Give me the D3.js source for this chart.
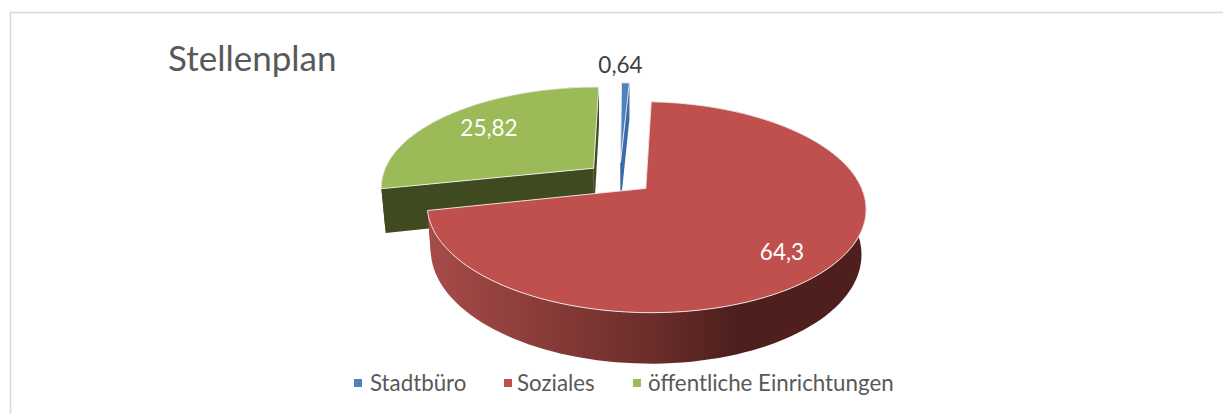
<!DOCTYPE html>
<html lang="de">
<head>
<meta charset="utf-8">
<script src="https://cdnjs.cloudflare.com/ajax/libs/d3/7.8.5/d3.min.js"></script>
<style>
html,body{margin:0;padding:0;background:#fff}
svg{display:block}
text{font-family:Lato,"Open Sans",sans-serif}
</style>
</head>
<body>
<div id="chart"></div>
<script>
// --- data ---
const categories = ["Stadtbüro", "Soziales", "öffentliche Einrichtungen"];
const values = [0.64, 64.3, 25.82];
const valueLabels = ["0,64", "64,3", "25,82"];
const title = "Stellenplan";
const topColors = ["#4f81bd", "#c0504d", "#9bbb59"];
const wallColors = ["#3a6aa8", "#4e1f1d", "#3f4a20"];
const labelColors = ["#404040", "#ffffff", "#ffffff"];

// --- layout ---
const W = 1223, H = 414;
const cam = {cx: 619.5, cy: 178, R: 212, K: 98.5, D: 44.5, P: 0.1745, Q: 0.018};
const explode = 0.16;
const rotation = 0.4 * Math.PI / 180;
const drawOrder = [2, 0, 1];

const svg = d3.select("#chart").append("svg").attr("width", W).attr("height", H);

// frame
svg.append("path").attr("d", d3.line()([[10.5, H], [10.5, 12.5], [W, 12.5]]))
  .attr("fill", "none").attr("stroke", "#d9d9d9").attr("stroke-width", 1.6);

// wall gradient
const grad = svg.append("defs").append("linearGradient").attr("id", "redWall")
  .attr("gradientUnits", "userSpaceOnUse").attr("x1", 430).attr("x2", 735).attr("y1", 0).attr("y2", 0);
[[0, "#a54c49"], [0.4, "#873a37"], [0.75, "#692d2a"], [1, "#4e1f1d"]].forEach(([o, c]) =>
  grad.append("stop").attr("offset", o).attr("stop-color", c));

// world (x, y, z) -> picture: tilted perspective of a unit disc
const project = (x, y, z) => {
  const w = 1 - cam.P * y + cam.Q * z;
  return [cam.cx + cam.R * x / w, cam.cy + (cam.K * y + cam.D * z) / w];
};

const pie = d3.pie().sort(null).startAngle(rotation).endAngle(rotation + 2 * Math.PI);
const arcs = pie(values);
const line = d3.line();

arcs.forEach(a => {
  const mid = (a.startAngle + a.endAngle) / 2;
  a.ox = explode * Math.sin(mid);
  a.oy = -explode * Math.cos(mid);
  a.rim = t => [a.ox + Math.sin(t), a.oy - Math.cos(t)];
  a.samples = d3.range(0, 121).map(i => a.startAngle + (a.endAngle - a.startAngle) * i / 120);
});

const face = (pts, z) => pts.map(p => project(p[0], p[1], z));

drawOrder.forEach(i => {
  const a = arcs[i];
  const g = svg.append("g");
  const apex = [a.ox, a.oy];
  const rim = a.samples.map(a.rim);
  const wallFill = i === 1 ? "url(#redWall)" : wallColors[i];

  // cut faces
  [rim[0], rim[rim.length - 1]].forEach(p => {
    const cut = [apex, p];
    g.append("path")
      .attr("d", line([...face(cut, 0), ...face(cut, 1).reverse()]) + "Z")
      .attr("fill", i === 1 ? "#a54c49" : wallColors[i]);
  });

  // outer wall
  g.append("path")
    .attr("d", line([...face(rim, 0), ...face(rim, 1).reverse()]) + "Z")
    .attr("fill", wallFill);

  // top face
  g.append("path")
    .attr("d", line(face([apex, ...rim], 0)) + "Z")
    .attr("fill", topColors[i])
    .attr("stroke", "#f4f1f0").attr("stroke-width", 0.9).attr("stroke-linejoin", "round");
});

// value labels
const labelSpots = [[620.5, 64], [782, 251], [489, 127]];
svg.append("g").selectAll("text").data(valueLabels).join("text")
  .attr("x", (d, i) => labelSpots[i][0])
  .attr("y", (d, i) => labelSpots[i][1])
  .attr("text-anchor", "middle").attr("dominant-baseline", "central")
  .attr("font-size", 22.5).attr("fill", (d, i) => labelColors[i]).text(d => d);

// title
svg.append("text").attr("x", 168).attr("y", 71)
  .attr("font-size", 35).attr("fill", "#595959").text(title);

// legend
const legendMarks = [354, 504, 633];
const legendTexts = [370, 517, 648];
const legend = svg.append("g");
legend.selectAll("rect").data(categories).join("rect")
  .attr("x", (d, i) => legendMarks[i]).attr("y", 379).attr("width", 8).attr("height", 8)
  .attr("fill", (d, i) => topColors[i]);
legend.selectAll("text").data(categories).join("text")
  .attr("x", (d, i) => legendTexts[i]).attr("y", 382.5)
  .attr("dominant-baseline", "central")
  .attr("font-size", 22.3).attr("fill", "#595959").text(d => d);
</script>
</body>
</html>
